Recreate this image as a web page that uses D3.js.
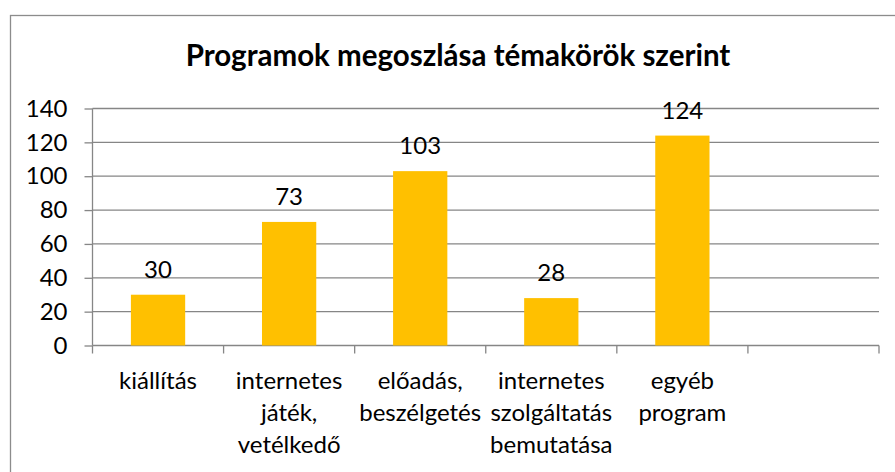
<!DOCTYPE html>
<html>
<head>
<meta charset="utf-8">
<script src="https://cdn.jsdelivr.net/npm/d3@7"></script>
<style>
  body { margin: 0; background: #fff; }
  text { font-family: Lato, "Noto Sans", sans-serif; fill: #000; }
</style>
</head>
<body>
<div id="chart"></div>
<script>
// chart values
const categories = ["kiállítás", "internetes\njáték,\nvetélkedő", "előadás,\nbeszélgetés",
                    "internetes\nszolgáltatás\nbemutatása", "egyéb\nprogram", ""];
const values = [30, 73, 103, 28, 124, null];
const yTicks = [0, 20, 40, 60, 80, 100, 120, 140];
const title = "Programok megoszlása témakörök szerint";

const W = 895, H = 472;
const margin = {top: 108.5, right: 16, bottom: 126.5, left: 92.5};
const width = W - margin.left - margin.right;
const height = H - margin.top - margin.bottom;

const svg = d3.select("#chart").append("svg")
    .attr("width", W)
    .attr("height", H);

// outer chart border (runs off the bottom and right edge)
svg.append("rect")
    .attr("x", 10.5).attr("y", 15.5)
    .attr("width", 900).attr("height", 500)
    .attr("fill", "none")
    .attr("stroke", "#8c8c8c")
    .attr("stroke-width", 1.3);

svg.append("text")
    .attr("x", 458).attr("y", 66)
    .attr("text-anchor", "middle")
    .style("font-weight", "bold")
    .style("font-size", "29.5px")
    .text(title);

const g = svg.append("g")
    .attr("transform", "translate(" + margin.left + "," + margin.top + ")");

const x = d3.scaleBand()
    .domain(d3.range(categories.length))
    .range([0, width])
    .padding(0);

const y = d3.scaleLinear()
    .domain([0, 140])
    .range([height, 0]);

// gridlines
g.selectAll(".grid")
    .data(yTicks.filter(d => d > 0))
    .enter().append("line")
    .attr("class", "grid")
    .attr("x1", 0).attr("x2", width)
    .attr("y1", d => y(d)).attr("y2", d => y(d))
    .attr("stroke", "#868686")
    .attr("stroke-width", 1.3);

// y axis
const yAxis = g.append("g")
    .call(d3.axisLeft(y).tickValues(yTicks).tickSize(8).tickPadding(17));
yAxis.selectAll("line, path").attr("stroke", "#868686").attr("stroke-width", 1.3);
yAxis.select(".domain").attr("d", "M0," + height + "V0");
yAxis.selectAll("text")
    .style("font-size", "24px")
    .style("font-family", "Lato, sans-serif")
    .attr("fill", "#000");

// x axis with ticks at category boundaries
const xAxisG = g.append("g").attr("transform", "translate(0," + height + ")");
xAxisG.append("line")
    .attr("x1", 0).attr("x2", width)
    .attr("stroke", "#868686").attr("stroke-width", 1.3);
xAxisG.selectAll(".xtick")
    .data(d3.range(categories.length + 1))
    .enter().append("line")
    .attr("class", "xtick")
    .attr("x1", i => i < categories.length ? x(i) : width)
    .attr("x2", i => i < categories.length ? x(i) : width)
    .attr("y1", 0).attr("y2", 8)
    .attr("stroke", "#868686").attr("stroke-width", 1.3);

const lbl = xAxisG.selectAll(".xlabel")
    .data(categories)
    .enter().append("text")
    .attr("class", "xlabel")
    .attr("text-anchor", "middle")
    .style("font-size", "24px");
lbl.each(function(d, i) {
    const t = d3.select(this);
    d.split("\n").forEach((line, k) => {
        t.append("tspan")
            .attr("x", x(i) + x.bandwidth() / 2)
            .attr("y", 43 + k * 32)
            .text(line);
    });
});

// bars
const barW = x.bandwidth() * 0.414;
const barData = values.map((v, i) => ({v: v, i: i})).filter(d => d.v != null);

g.selectAll(".bar")
    .data(barData)
    .enter().append("rect")
    .attr("class", "bar")
    .attr("x", d => x(d.i) + (x.bandwidth() - barW) / 2)
    .attr("y", d => y(d.v))
    .attr("width", barW)
    .attr("height", d => height - y(d.v))
    .attr("fill", "#FFC000");

// data labels
g.selectAll(".val")
    .data(barData)
    .enter().append("text")
    .attr("class", "val")
    .attr("x", d => x(d.i) + x.bandwidth() / 2)
    .attr("y", d => y(d.v) - 17)
    .attr("text-anchor", "middle")
    .style("font-size", "24px")
    .text(d => d.v);
</script>
</body>
</html>
